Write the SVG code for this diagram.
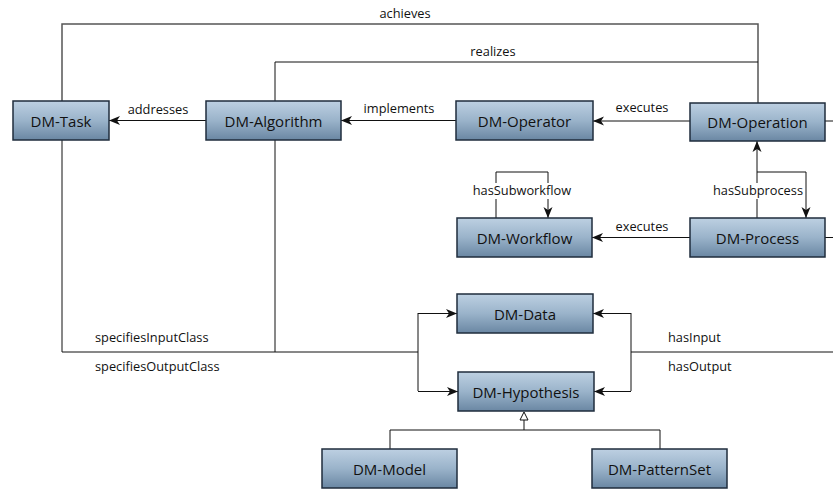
<svg xmlns="http://www.w3.org/2000/svg" width="833" height="491" viewBox="0 0 833 491">
<style>
.node rect{fill:url(#g);stroke:#1f2d3d;stroke-width:1.5}
.node text{font-family:"Open Sans","Noto Sans",sans-serif;font-size:15px;fill:#111;text-anchor:middle;dominant-baseline:central}
.c path{fill:none;stroke:#111;stroke-width:1}
.c .a{marker-end:url(#ar)}
.bg{fill:#fff;stroke:none}
.lbl{font-family:"Open Sans","Noto Sans",sans-serif;font-size:12.8px;fill:#111}
.m{text-anchor:middle}
</style>
<defs>
<linearGradient id="g" x1="0" y1="0" x2="0" y2="1">
<stop offset="0" stop-color="#bdd0e2"/>
<stop offset="0.5" stop-color="#9ab3ca"/>
<stop offset="1" stop-color="#6a87a3"/>
</linearGradient>
<marker id="ar" markerUnits="userSpaceOnUse" markerWidth="12" markerHeight="10" refX="11" refY="5" orient="auto">
<path d="M0,0.5 L11,5 L0,9.5 L3,5 z" fill="#111"/>
</marker>
</defs>
<g class="c" id="connectors">
<path d="M62,101 V24 H758 V103" style="stroke:#555;stroke-width:1.5"/>
<path d="M275,101 V62 H758"/>
<path class="a" d="M206,120.5 H109"/>
<path class="a" d="M456,120.5 H341"/>
<path class="a" d="M690,121 H593"/>
<path d="M825,121 H833"/>
<path class="a" d="M757,218 V141"/>
<path class="a" d="M757,172 H806 V218"/>
<path class="a" d="M496,218 V172 H548 V218"/>
<path class="a" d="M690,237.5 H592"/>
<path d="M825,237.5 H833"/>
<path d="M62,140 V352 H418"/>
<path d="M275,140 V352"/>
<path d="M418,313 V391"/>
<path class="a" d="M418,313.5 H457"/>
<path class="a" d="M418,391.5 H458"/>
<path d="M833,352 H631"/>
<path d="M631,313 V391"/>
<path class="a" d="M631,313.5 H593"/>
<path class="a" d="M631,391.5 H594"/>
<path d="M524,420 V430"/>
<path d="M390,449 V430 H660 V449"/>
<polygon points="524,412 520,420 528,420" fill="#fff" stroke="#111" stroke-width="1"/>
<rect class="bg" x="468" y="183" width="108" height="16"/>
<rect class="bg" x="710" y="183" width="94" height="16"/>
<text class="lbl m" x="405" y="18">achieves</text>
<text class="lbl m" x="493" y="56">realizes</text>
<text class="lbl m" x="158" y="114">addresses</text>
<text class="lbl m" x="399" y="113">implements</text>
<text class="lbl m" x="642" y="112">executes</text>
<text class="lbl m" x="522" y="195">hasSubworkflow</text>
<text class="lbl m" x="758" y="195">hasSubprocess</text>
<text class="lbl m" x="642" y="231">executes</text>
<text class="lbl" x="95" y="342">specifiesInputClass</text>
<text class="lbl" x="95" y="371">specifiesOutputClass</text>
<text class="lbl" x="668" y="342">hasInput</text>
<text class="lbl" x="668" y="371">hasOutput</text>
</g>
<g class="node" id="dm-task"><rect x="13" y="101" width="96" height="39"/><text x="61" y="120.5">DM-Task</text></g>
<g class="node" id="dm-algorithm"><rect x="206" y="101" width="135" height="39"/><text x="273.5" y="120.5">DM-Algorithm</text></g>
<g class="node" id="dm-operator"><rect x="456" y="101" width="137" height="39"/><text x="524.5" y="120.5">DM-Operator</text></g>
<g class="node" id="dm-operation"><rect x="690" y="103" width="135" height="38"/><text x="757.5" y="122">DM-Operation</text></g>
<g class="node" id="dm-workflow"><rect x="457" y="218" width="135" height="39"/><text x="524.5" y="237.5">DM-Workflow</text></g>
<g class="node" id="dm-process"><rect x="690" y="218" width="135" height="39"/><text x="757.5" y="237.5">DM-Process</text></g>
<g class="node" id="dm-data"><rect x="457" y="294" width="136" height="39"/><text x="525" y="313.5">DM-Data</text></g>
<g class="node" id="dm-hypothesis"><rect x="458" y="372" width="136" height="39"/><text x="526" y="391.5">DM-Hypothesis</text></g>
<g class="node" id="dm-model"><rect x="322" y="449" width="135" height="39"/><text x="389.5" y="468.5">DM-Model</text></g>
<g class="node" id="dm-patternset"><rect x="592" y="449" width="135" height="39"/><text x="659.5" y="468.5">DM-PatternSet</text></g>
</svg>
